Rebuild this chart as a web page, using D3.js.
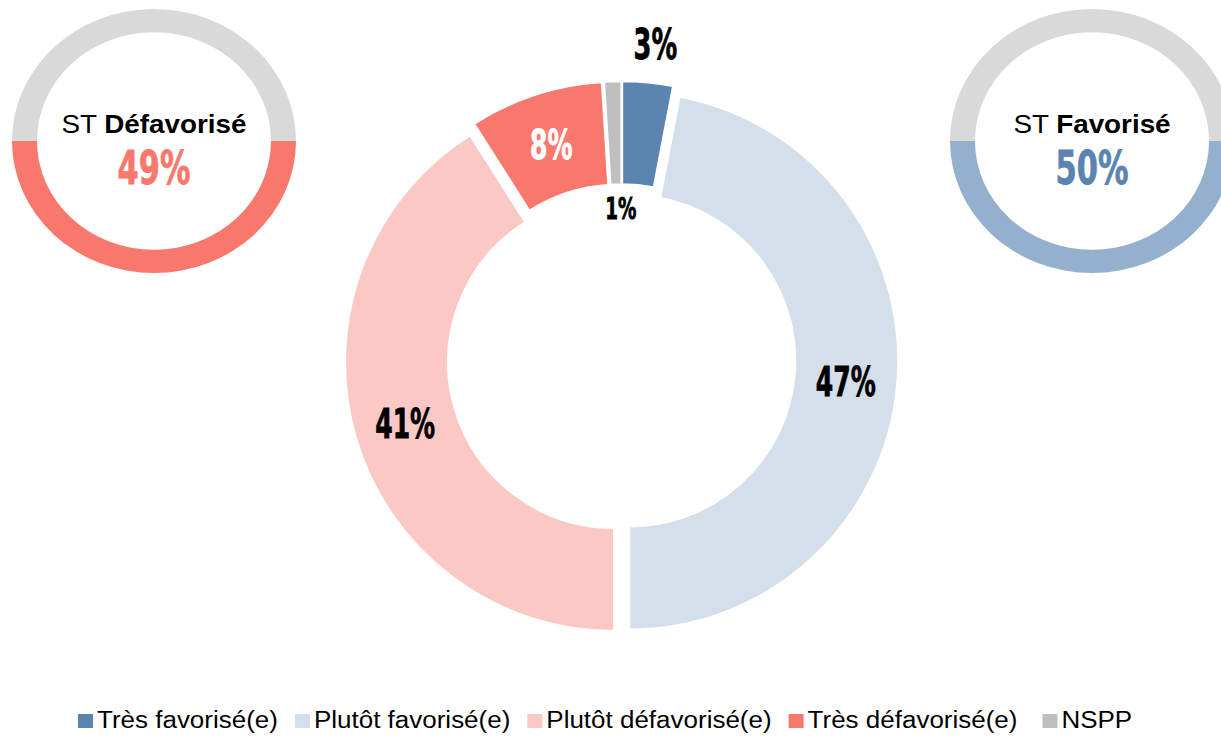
<!DOCTYPE html>
<html>
<head>
<meta charset="utf-8">
<script src="https://cdn.jsdelivr.net/npm/d3@7"></script>
<style>
  body { margin: 0; background: #fff; }
  svg { display: block; }
</style>
</head>
<body>
<svg id="chart"></svg>
<script>
// data
const categories = ["Très favorisé(e)", "Plutôt favorisé(e)", "Plutôt défavorisé(e)", "Très défavorisé(e)", "NSPP"];
const values = [3, 47, 41, 8, 1];
const colors = ["#5b84b1", "#d5dfea", "#fbc9c5", "#f8786d", "#bfbfbf"];
const labelColors = ["#000", "#000", "#000", "#fff", "#000"];
const totals = [
  { name: "Défavorisé", parts: ["Plutôt défavorisé(e)", "Très défavorisé(e)"], ring: "#f8786d", text: "#f8786d" },
  { name: "Favorisé", parts: ["Très favorisé(e)", "Plutôt favorisé(e)"], ring: "#95b0cc", text: "#5b84b1" }
];

const W = 1221, H = 737;
const svg = d3.select("#chart").attr("width", W).attr("height", H);

const bigFont = "'DejaVu Sans Condensed', 'DejaVu Sans', sans-serif";
const fontFamily = "'Liberation Sans', Arial, sans-serif";
const squeeze = 0.68;

// main donut
const cx = 621.5, cy = 360, R = 268.5, r = 166;
const pie = d3.pie().sort(null).value(d => d.value);
const arcs = pie(categories.map((c, i) => ({ cat: c, value: values[i], i: i })));
const arc = d3.arc().innerRadius(r).outerRadius(R);

const main = svg.append("g").attr("transform", `translate(${cx},${cy})`);

const slices = main.selectAll("g.slice")
  .data(arcs)
  .join("g")
  .attr("class", "slice")
  .attr("transform", d => {
    const a = (d.startAngle + d.endAngle) / 2;
    const off = d.data.value < 10 ? 10 : 8;
    return `translate(${Math.sin(a) * off},${-Math.cos(a) * off})`;
  });

slices.append("path")
  .attr("d", arc)
  .attr("fill", d => colors[d.data.i])
  .attr("stroke", "#fff")
  .attr("stroke-width", 1.5);

// labels: small slices go outside (first) or inside the hole (next)
let smallCount = 0;
slices.each(function(d) {
  const a = (d.startAngle + d.endAngle) / 2;
  let rad = (r + R) / 2, size = 41, nudge = 0;
  if (d.data.value < 5) {
    if (smallCount === 0) { rad = R + 39; size = 42; }
    else { rad = r - 24; size = 30; }
    nudge = 4;
    smallCount++;
  }
  const x = Math.sin(a) * rad + nudge;
  const y = -Math.cos(a) * rad;
  d3.select(this).append("text")
    .attr("transform", `translate(${x},${y}) scale(${squeeze},1)`)
    .attr("text-anchor", "middle")
    .attr("dy", "0.36em")
    .style("font-family", bigFont)
    .style("font-weight", "bold")
    .style("font-size", size + "px")
    .attr("fill", labelColors[d.data.i])
    .attr("stroke", labelColors[d.data.i])
    .attr("stroke-width", 0.8)
    .text(d.data.value + "%");
});

// small summary donuts
const smallCenters = [154, 1092];
const sy = 141, sR = 142, sr = 117;
const halfArc = d3.arc().innerRadius(sr).outerRadius(sR);

totals.forEach((t, k) => {
  const total = d3.sum(t.parts.map(p => values[categories.indexOf(p)]));
  const g = svg.append("g").attr("transform", `translate(${smallCenters[k]},${sy})`);
  const ring = g.append("g").attr("transform", "scale(1,0.93)");
  ring.append("path")
    .attr("d", halfArc({ startAngle: -Math.PI / 2, endAngle: Math.PI / 2 }))
    .attr("fill", "#d9d9d9");
  ring.append("path")
    .attr("d", halfArc({ startAngle: Math.PI / 2, endAngle: Math.PI * 1.5 }))
    .attr("fill", t.ring);

  const title = g.append("text")
    .attr("text-anchor", "middle")
    .attr("transform", "translate(0,-8) scale(1.05,1)")
    .style("font-family", fontFamily)
    .style("font-size", "26.5px")
    .attr("fill", "#000");
  title.append("tspan").text("ST ");
  title.append("tspan").style("font-weight", "bold").text(t.name);

  g.append("text")
    .attr("transform", `translate(0,43) scale(0.72,1)`)
    .attr("text-anchor", "middle")
    .style("font-family", bigFont)
    .style("font-weight", "bold")
    .style("font-size", "47px")
    .attr("fill", t.text)
    .attr("stroke", t.text)
    .attr("stroke-width", 0.8)
    .text(total + "%");
});

// legend
const legendStretch = 1.13;
const legend = svg.append("g").attr("transform", "translate(78,0)");
let lx = 0;
categories.forEach((c, i) => {
  legend.append("rect")
    .attr("x", lx).attr("y", 714)
    .attr("width", 15).attr("height", 14)
    .attr("fill", colors[i]);
  const txt = legend.append("text")
    .attr("transform", `translate(${lx + 19},728) scale(${legendStretch},1)`)
    .style("font-family", fontFamily)
    .style("font-size", "23px")
    .attr("fill", "#000")
    .text(c);
  lx += 19 + txt.node().getComputedTextLength() * legendStretch + (i === categories.length - 2 ? 25 : 17);
});
</script>
</body>
</html>
